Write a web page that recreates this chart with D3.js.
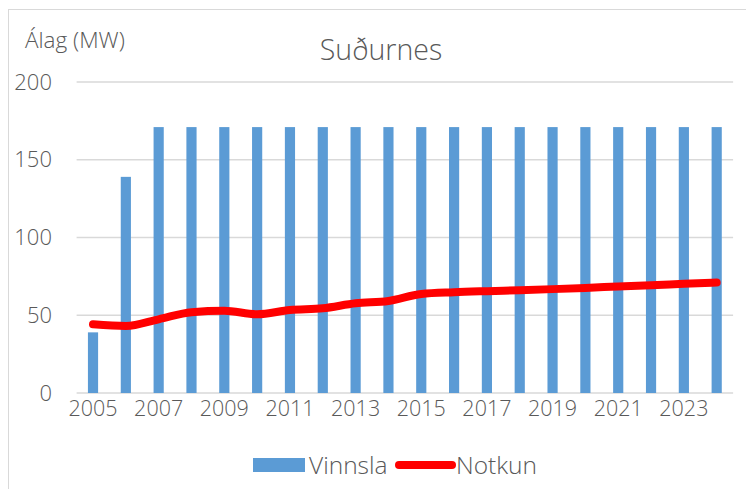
<!DOCTYPE html>
<html><head><meta charset="utf-8">
<script src="https://cdn.jsdelivr.net/npm/d3@7"></script>
<style>
body{margin:0;background:#fff;}
text{font-family:"Open Sans","Segoe UI",sans-serif;font-weight:300;fill:#595959;}
</style></head>
<body>
<svg id="c" width="746" height="489"></svg>
<script>
const years = [2005,2006,2007,2008,2009,2010,2011,2012,2013,2014,2015,2016,2017,2018,2019,2020,2021,2022,2023,2024];
const vinnsla = [39,139,171,171,171,171,171,171,171,171,171,171,171,171,171,171,171,171,171,171];
const notkun = [44.2,43.1,47.4,52,52.9,50.6,53.4,54.5,57.7,59.2,63.7,64.8,65.5,66.1,66.8,67.6,68.5,69.3,70.2,71];
const yTicks = [0,50,100,150,200];
const xTickYears = [2005,2007,2009,2011,2013,2015,2017,2019,2021,2023];

const svg = d3.select("#c");
svg.append("rect").attr("x",8.5).attr("y",9.5).attr("width",760).attr("height",500)
  .attr("fill","#fff").attr("stroke","#D9D9D9").attr("stroke-width",1);

const x = d3.scaleBand().domain(years).range([76.6,733.1]).paddingInner(0.69).paddingOuter(0.345);
const y = d3.scaleLinear().domain([0,200]).range([393,82]);

// gridlines
svg.append("g").selectAll("line").data(yTicks).join("line")
  .attr("x1",76.6).attr("x2",733.1)
  .attr("y1",d=>y(d)).attr("y2",d=>y(d))
  .attr("stroke","#D9D9D9").attr("stroke-width",1.5);

// y axis labels
const ya = svg.append("g").attr("transform","translate(52,0)")
  .call(d3.axisLeft(y).tickValues(yTicks).tickSize(0).tickPadding(0));
ya.select(".domain").remove();
ya.selectAll("text").style("font-size","22px").attr("fill","#595959");

// bars
svg.append("g").selectAll("rect").data(years).join("rect")
  .attr("x",d=>x(d)).attr("width",x.bandwidth())
  .attr("y",(d,i)=>y(vinnsla[i])).attr("height",(d,i)=>y(0)-y(vinnsla[i]))
  .attr("fill","#5B9BD5");

// x axis labels
const xa = svg.append("g").attr("transform","translate(0,401)")
  .call(d3.axisBottom(x).tickValues(xTickYears).tickSize(0).tickPadding(0).tickFormat(d3.format("d")));
xa.select(".domain").remove();
xa.selectAll("text").style("font-size","21.5px").attr("fill","#595959");

// line
const line = d3.line().x((d,i)=>x(years[i])+x.bandwidth()/2).y(d=>y(d)).curve(d3.curveMonotoneX);
svg.append("path").datum(notkun).attr("d",line)
  .attr("fill","none").attr("stroke","#FF0000").attr("stroke-width",8)
  .attr("stroke-linecap","round").attr("stroke-linejoin","round");

// titles
svg.append("text").attr("x",381).attr("y",60).attr("text-anchor","middle")
  .style("font-size","28.5px").text("Suðurnes");
svg.append("text").attr("x",25).attr("y",48)
  .style("font-size","22.5px").text("Álag (MW)");

// legend
const lg = svg.append("g");
lg.append("rect").attr("x",253).attr("y",458).attr("width",52).attr("height",14).attr("fill","#5B9BD5");
lg.append("text").attr("x",309).attr("y",474).style("font-size","24.5px").text("Vinnsla");
lg.append("line").attr("x1",399).attr("x2",452).attr("y1",465).attr("y2",465)
  .attr("stroke","#FF0000").attr("stroke-width",8).attr("stroke-linecap","round");
lg.append("text").attr("x",456).attr("y",474).style("font-size","24.5px").text("Notkun");
</script>
</body></html>
